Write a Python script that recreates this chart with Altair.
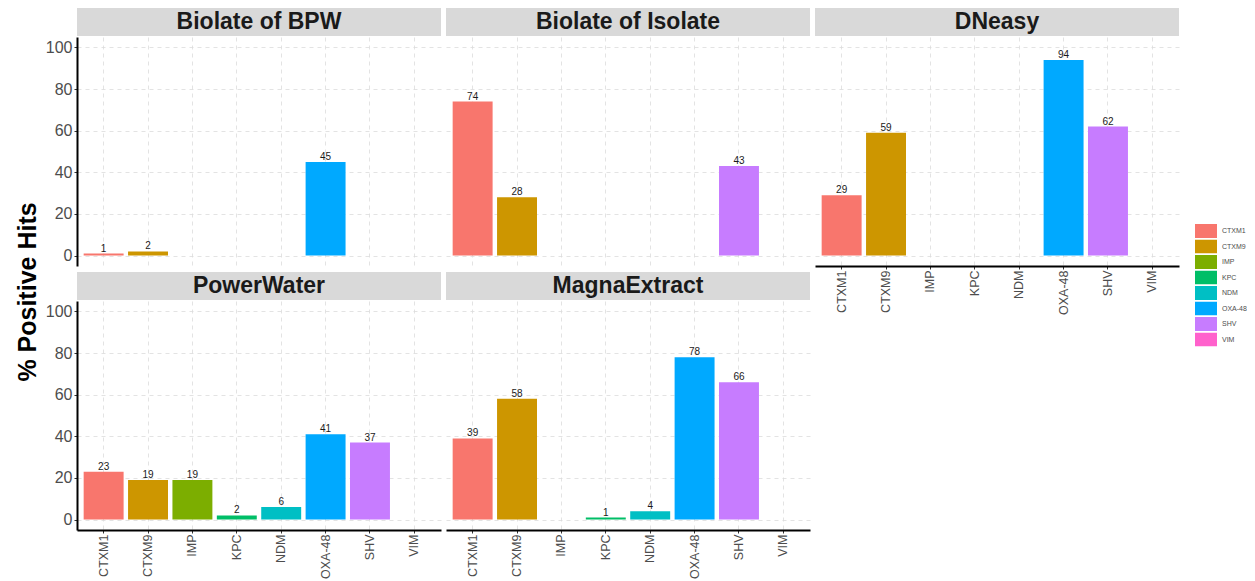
import altair as alt
import pandas as pd

genes = ["CTXM1", "CTXM9", "IMP", "KPC", "NDM", "OXA-48", "SHV", "VIM"]
colors = ["#F8766D", "#CD9600", "#7CAE00", "#00BE67", "#00BFC4", "#00A9FF", "#C77CFF", "#FF61CC"]

bpw_genes = ["CTXM1", "CTXM9", "OXA-48"]
bpw_vals = [1, 2, 45]
iso_genes = ["CTXM1", "CTXM9", "SHV"]
iso_vals = [74, 28, 43]
dne_genes = ["CTXM1", "CTXM9", "OXA-48", "SHV"]
dne_vals = [29, 59, 94, 62]
pw_genes = ["CTXM1", "CTXM9", "IMP", "KPC", "NDM", "OXA-48", "SHV"]
pw_vals = [23, 19, 19, 2, 6, 41, 37]
mag_genes = ["CTXM1", "CTXM9", "KPC", "NDM", "OXA-48", "SHV"]
mag_vals = [39, 58, 1, 4, 78, 66]
y_ticks = [0, 20, 40, 60, 80, 100]

FONT = "Liberation Sans"
W, H = 364, 229
GRID = dict(grid=True, gridDash=[4, 4], gridColor="#dcdcdc", gridWidth=0.8)

legend = alt.Legend(
    title=None, orient="none", legendX=1187, legendY=187,
    symbolType="M-1,-0.64L1,-0.64L1,0.64L-1,0.64Z", symbolSize=484,
    symbolStrokeWidth=0, labelFontSize=7, labelColor="#4d4d4d", labelFont=FONT,
    clipHeight=14, rowPadding=1.5, labelOffset=5, padding=0,
)


def panel(name, gs, vs, show_x, show_y):
    df = pd.DataFrame({"gene": gs, "value": vs})
    if show_x:
        x_axis = alt.Axis(title=None, labelAngle=270, labelFontSize=12.5, labelColor="#4d4d4d",
                          labelFont=FONT, domainColor="black", domainWidth=2, tickColor="#333333",
                          tickSize=3, labelPadding=1, bandPosition=0.5, **GRID)
    else:
        x_axis = alt.Axis(title=None, labels=False, ticks=False, domain=False,
                          bandPosition=0.5, **GRID)
    if show_y:
        y_axis = alt.Axis(title=None, values=y_ticks, labelFontSize=16, labelColor="#4d4d4d",
                          labelFont=FONT, domainColor="black", domainWidth=2, tickColor="#333333",
                          tickSize=3, labelPadding=2, **GRID)
    else:
        y_axis = alt.Axis(title=None, values=y_ticks, labels=False, ticks=False, domain=False, **GRID)

    x = alt.X("gene:N", scale=alt.Scale(domain=genes, paddingInner=0.1, paddingOuter=0.15), axis=x_axis)
    y = alt.Y("value:Q", scale=alt.Scale(domain=[-5, 105], nice=False), axis=y_axis)

    base = alt.Chart(df)
    bars = base.mark_bar().encode(
        x=x, y=y, y2=alt.datum(0),
        color=alt.Color("gene:N", scale=alt.Scale(domain=genes, range=colors), legend=legend),
    )
    labels = base.mark_text(fontSize=10, baseline="alphabetic", dy=-2, color="#1a1a1a", font=FONT).encode(
        x=x, y=y, text="value:Q"
    )
    sdf = pd.DataFrame({"title": [name]})
    strip = alt.Chart(sdf).mark_rect(color="#d9d9d9").encode(
        x=alt.value(0), x2=alt.value(W), y=alt.value(-29), y2=alt.value(-1)
    )
    strip_text = alt.Chart(sdf).mark_text(fontSize=23, fontWeight="bold", color="#1a1a1a",
                                          font=FONT, baseline="middle").encode(
        x=alt.value(W / 2), y=alt.value(-15), text="title:N"
    )
    return alt.layer(bars, labels, strip, strip_text).properties(width=W, height=H)


bpw = panel("Biolate of BPW", bpw_genes, bpw_vals, False, True)
iso = panel("Biolate of Isolate", iso_genes, iso_vals, False, False)
dne = panel("DNeasy", dne_genes, dne_vals, True, False)
pw = panel("PowerWater", pw_genes, pw_vals, True, True)
mag = panel("MagnaExtract", mag_genes, mag_vals, True, False)

ytitle = alt.Chart(pd.DataFrame({"t": ["% Positive Hits"]})).mark_text(
    angle=270, fontSize=25, fontWeight="bold", font=FONT, color="black", baseline="middle"
).encode(x=alt.value(20), y=alt.value(255), text="t:N").properties(width=28, height=500)

col1 = alt.vconcat(bpw, pw, spacing=6)
col2 = alt.vconcat(iso, mag, spacing=6)

chart = alt.hconcat(
    alt.hconcat(ytitle, col1, spacing=4), col2, dne, spacing=5
).properties(padding=0, background="white").configure_view(strokeWidth=0, stroke="transparent")

chart.save("out.html", embed_options={"renderer": "svg", "actions": False})
